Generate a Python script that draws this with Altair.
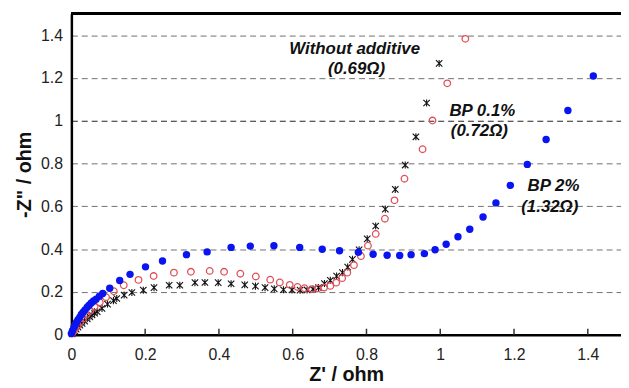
import altair as alt
import pandas as pd

# ---- data ----
black_x = [0.002, 0.005, 0.009, 0.013, 0.018, 0.023, 0.029, 0.036, 0.043, 0.050, 0.056, 0.063,
           0.070, 0.083, 0.098, 0.114, 0.123, 0.143, 0.164, 0.195, 0.224, 0.265, 0.294, 0.335,
           0.362, 0.398, 0.433, 0.470, 0.499, 0.525, 0.550, 0.575, 0.598, 0.620, 0.639, 0.655,
           0.670, 0.686, 0.702, 0.719, 0.735, 0.749, 0.762, 0.780, 0.802, 0.825, 0.851, 0.878,
           0.905, 0.934, 0.963, 0.997]
black_y = [0.004, 0.010, 0.018, 0.026, 0.035, 0.044, 0.053, 0.063, 0.074, 0.083, 0.092, 0.100,
           0.108, 0.123, 0.143, 0.159, 0.169, 0.185, 0.197, 0.208, 0.220, 0.231, 0.231, 0.243,
           0.244, 0.243, 0.238, 0.233, 0.227, 0.220, 0.214, 0.210, 0.209, 0.208, 0.209, 0.213,
           0.220, 0.239, 0.254, 0.274, 0.290, 0.316, 0.352, 0.397, 0.448, 0.508, 0.587, 0.679,
           0.793, 0.925, 1.083, 1.268]

red_x = [0.002, 0.006, 0.011, 0.017, 0.024, 0.032, 0.041, 0.051, 0.063, 0.077, 0.094, 0.115,
         0.142, 0.182, 0.223, 0.278, 0.324, 0.375, 0.414, 0.458, 0.500, 0.539, 0.565, 0.592,
         0.613, 0.632, 0.652, 0.668, 0.685, 0.702, 0.718, 0.734, 0.748, 0.766, 0.785, 0.804,
         0.825, 0.850, 0.876, 0.903, 0.952, 0.979, 1.019, 1.068]
red_y = [0.006, 0.017, 0.030, 0.045, 0.060, 0.076, 0.093, 0.111, 0.130, 0.151, 0.175, 0.203,
         0.231, 0.256, 0.274, 0.290, 0.294, 0.298, 0.294, 0.285, 0.272, 0.257, 0.244, 0.233,
         0.223, 0.217, 0.213, 0.216, 0.220, 0.228, 0.243, 0.264, 0.290, 0.325, 0.367, 0.416,
         0.471, 0.542, 0.628, 0.729, 0.867, 1.001, 1.175, 1.383]

blue_x = [0.000, 0.003, 0.007, 0.010, 0.014, 0.018, 0.023, 0.027, 0.032, 0.037, 0.043, 0.048,
          0.054, 0.060, 0.067, 0.076, 0.085, 0.104, 0.131, 0.159, 0.201, 0.247, 0.312, 0.368,
          0.433, 0.485, 0.549, 0.619, 0.680, 0.727, 0.778, 0.818, 0.856, 0.890, 0.921, 0.957,
          0.986, 1.016, 1.048, 1.080, 1.116, 1.151, 1.190, 1.236, 1.287, 1.346, 1.415]
blue_y = [0.005, 0.018, 0.035, 0.046, 0.058, 0.070, 0.082, 0.094, 0.105, 0.116, 0.128, 0.138,
          0.148, 0.157, 0.166, 0.180, 0.193, 0.217, 0.253, 0.282, 0.317, 0.344, 0.374, 0.387,
          0.408, 0.414, 0.416, 0.408, 0.399, 0.392, 0.385, 0.376, 0.371, 0.370, 0.374, 0.379,
          0.397, 0.423, 0.458, 0.493, 0.550, 0.616, 0.698, 0.796, 0.912, 1.048, 1.209]

label_text = ["Without additive", "(0.69\u03a9)", "BP 0.1%", "(0.72\u03a9)", "BP 2%", "(1.32\u03a9)"]
label_x = [0.768, 0.773, 1.114, 1.106, 1.307, 1.297]
label_y = [1.310, 1.219, 1.023, 0.931, 0.673, 0.575]

x_ticks = [0, 0.2, 0.4, 0.6, 0.8, 1.0, 1.2, 1.4]
y_ticks = [0, 0.2, 0.4, 0.6, 0.8, 1.0, 1.2, 1.4]

# ---- chart ----
FONT = "Liberation Sans"
W, H = 555, 324

xscale = alt.Scale(domain=[0, 1.49], nice=False, zero=False)
yscale = alt.Scale(domain=[0, 1.5], nice=False, zero=False)

x_axis = alt.Axis(values=x_ticks, format="~g", title="Z' / ohm", grid=False, ticks=False,
                  labelFontSize=16, labelFont=FONT, labelColor="#222", labelPadding=12,
                  titleFontSize=20, titleFont=FONT, titleFontWeight="bold", titleColor="#111",
                  titlePadding=2, domainColor="#000", domainWidth=2.5, labelFlush=False)
y_axis = alt.Axis(values=y_ticks, format="~g", title='-Z" / ohm', grid=True, ticks=False,
                  gridDash=[6, 4], gridWidth=1,
                  gridColor={"condition": {"test": "datum.value === 1", "value": "#222"}, "value": "#707070"},
                  labelFontSize=16, labelFont=FONT, labelColor="#222", labelPadding=9,
                  titleFontSize=20, titleFont=FONT, titleFontWeight="bold", titleColor="#111",
                  titlePadding=6, domainColor="#000", domainWidth=2.5, labelFlush=False)

df_b = pd.DataFrame({"x": black_x, "y": black_y})
df_r = pd.DataFrame({"x": red_x, "y": red_y})
df_u = pd.DataFrame({"x": blue_x, "y": blue_y})
df_l = pd.DataFrame({"t": label_text, "x": label_x, "y": label_y})
df_t = pd.DataFrame({"t": x_ticks[1:]})

base_axes = alt.Chart(df_u).mark_point(opacity=0).encode(
    x=alt.X("x:Q", scale=xscale, axis=x_axis),
    y=alt.Y("y:Q", scale=yscale, axis=y_axis),
)

star = "M-1,-1L1,1M-1,1L1,-1M0,-1.1L0,1.1"
black = alt.Chart(df_b).mark_point(shape=star, filled=False, stroke="#111", strokeWidth=1.1,
                                   size=42, opacity=1).encode(
    x=alt.X("x:Q", scale=xscale), y=alt.Y("y:Q", scale=yscale))
red = alt.Chart(df_r).mark_point(shape="circle", filled=False, stroke="#e0505a", strokeWidth=1.3,
                                 size=44, opacity=1).encode(
    x=alt.X("x:Q", scale=xscale), y=alt.Y("y:Q", scale=yscale))
blue = alt.Chart(df_u).mark_point(shape="circle", filled=True, fill="#0a14f0", strokeWidth=0,
                                  size=56, opacity=1).encode(
    x=alt.X("x:Q", scale=xscale), y=alt.Y("y:Q", scale=yscale))

ticks = alt.Chart(df_t).mark_rule(color="#333", strokeWidth=1.5).encode(
    x=alt.X("t:Q", scale=xscale), y=alt.value(H), y2=alt.value(H - 6))

top = alt.Chart(df_t).mark_rule(color="#000", strokeWidth=2.5).encode(
    x=alt.value(0), x2=alt.value(W), y=alt.value(0))

labels = alt.Chart(df_l).mark_text(font=FONT, fontSize=17, fontWeight="bold", fontStyle="italic",
                                   color="#111", align="center", baseline="alphabetic").encode(
    x=alt.X("x:Q", scale=xscale), y=alt.Y("y:Q", scale=yscale), text="t:N")

chart = alt.layer(base_axes, ticks, black, red, blue, labels, top).properties(
    width=W, height=H,
    autosize=alt.AutoSizeParams(type="none"),
    padding={"left": 64, "top": 4, "right": 0, "bottom": 52},
).configure_view(fill="#ccccff", strokeWidth=0).configure(background="white")

chart.save("out.html", embed_options={"renderer": "svg", "actions": False})
